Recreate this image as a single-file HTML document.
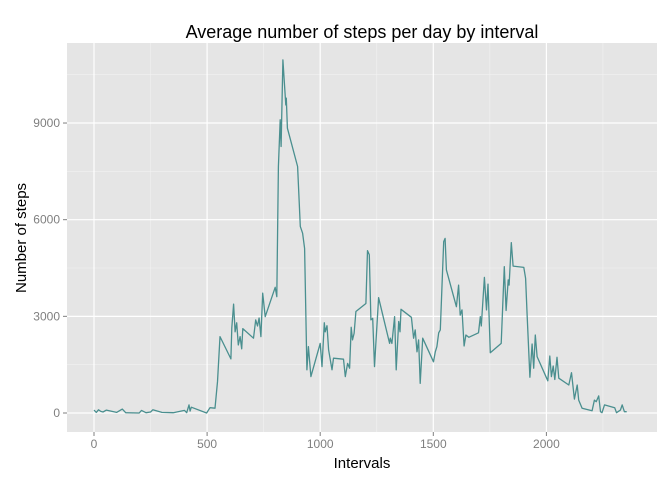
<!DOCTYPE html>
<html><head><meta charset="utf-8"><style>
body{margin:0;background:#fff;font-family:"Liberation Sans",sans-serif}
</style></head><body>
<svg id="chart" width="672" height="480" xmlns="http://www.w3.org/2000/svg"></svg>
<script>
const intervals=[0,10,20,30,40,55,100,125,140,200,210,230,250,260,300,350,400,410,420,425,430,498,513,535,546,557,605,609,617,624,631,638,646,653,658,705,715,723,730,738,746,757,801,808,815,823,827,835,848,850,855,900,912,922,931,941,948,959,1000,1008,1018,1022,1030,1037,1052,1059,1103,1111,1121,1130,1137,1143,1150,1158,1202,1209,1217,1224,1232,1240,1258,1307,1310,1317,1329,1336,1347,1353,1357,1403,1413,1420,1428,1435,1442,1453,1501,1509,1516,1524,1531,1546,1552,1558,1602,1612,1619,1627,1636,1644,1657,1700,1708,1712,1726,1735,1742,1752,1800,1814,1822,1831,1835,1845,1853,1900,1908,1915,1927,1937,1944,1951,1959,2006,2015,2022,2030,2037,2047,2055,2099,2111,2124,2136,2143,2158,2202,2212,2220,2231,2239,2246,2257,2302,2310,2327,2335,2345,2355];
const steps=[90,20,100,50,30,90,20,120,10,0,80,10,30,100,20,10,80,10,250,60,180,0,165,150,970,2370,1680,2640,3380,2520,2800,2110,2370,1990,2620,2320,2890,2700,2950,2370,3720,2990,3900,3610,7650,9100,8270,10960,9560,9770,8840,7650,5790,5580,5110,1340,2060,1130,2160,1440,2800,2520,2710,1960,1340,1700,1670,1130,1540,1390,2660,2270,2470,3150,3400,5040,4910,2890,2940,1440,3580,2160,2320,2160,2990,1340,2840,2520,3220,2970,2320,2580,1900,2270,920,2320,1590,1900,2060,2490,2580,5320,5420,4440,3300,3970,3040,3200,2080,2420,2350,2490,2990,2700,4210,3200,4000,1870,2160,4540,3180,4130,3970,5290,4560,4520,4180,2990,1110,2140,1390,2420,1750,1000,1770,1130,1460,1040,1730,1080,870,1250,430,870,400,150,70,400,350,530,40,10,250,165,10,90,250,40,40];
const xTicks=[0,500,1000,1500,2000];
const yTicks=[0,3000,6000,9000];
const NS="http://www.w3.org/2000/svg";
const svg=document.getElementById('chart');
const L=67,R=657,T=43,B=432;
const x=v=>94+v*0.2262;
const y=v=>413-v*0.03222;
function mk(t,a,p){const e=document.createElementNS(NS,t);for(const k in a)e.setAttribute(k,a[k]);(p||svg).appendChild(e);return e;}
const panel=mk('rect',{x:L,y:T,width:R-L,height:B-T,fill:'#E5E5E5'});


for(let i=0;i<xTicks.length;i++){const m=xTicks[i]+250;if(x(m)<R){const g=mk('line',{x1:x(m),x2:x(m),y1:T,y2:B,stroke:'#F2F2F2','stroke-width':0.6});}}
for(let i=0;i<4;i++){const m=yTicks[i]+1500;const g=mk('line',{x1:L,x2:R,y1:y(m),y2:y(m),stroke:'#F2F2F2','stroke-width':0.6});}
xTicks.forEach(v=>{const g=mk('line',{x1:x(v),x2:x(v),y1:T,y2:B,stroke:'#fff','stroke-width':1.2});
const tk=mk('line',{x1:x(v),x2:x(v),y1:B,y2:B+4,stroke:'#7F7F7F'});
const t=mk('text',{x:x(v),y:B+16,'text-anchor':'middle','font-size':12,fill:'#7F7F7F'});t.textContent=v;});
yTicks.forEach(v=>{const g=mk('line',{x1:L,x2:R,y1:y(v),y2:y(v),stroke:'#fff','stroke-width':1.2});
const tk=mk('line',{x1:L-4,x2:L,y1:y(v),y2:y(v),stroke:'#7F7F7F'});
const t=mk('text',{x:L-7,y:y(v)+4,'text-anchor':'end','font-size':12,fill:'#7F7F7F'});t.textContent=v;});
let d='';intervals.forEach((v,i)=>{d+=(i?'L':'M')+x(v).toFixed(1)+','+y(steps[i]).toFixed(1);});
const line=mk('path',{d:d,fill:'none',stroke:'#4A8F8F','stroke-width':1.3,'stroke-linejoin':'round'});


const title=mk('text',{x:362,y:38,'text-anchor':'middle','font-size':18,fill:'#000'});title.textContent='Average number of steps per day by interval';


const xl=mk('text',{x:362,y:468,'text-anchor':'middle','font-size':15,fill:'#000'});xl.textContent='Intervals';


const yl=mk('text',{x:0,y:0,'text-anchor':'middle','font-size':15,fill:'#000',transform:'translate(26,238) rotate(-90)'});yl.textContent='Number of steps';


</script>
</body></html>
